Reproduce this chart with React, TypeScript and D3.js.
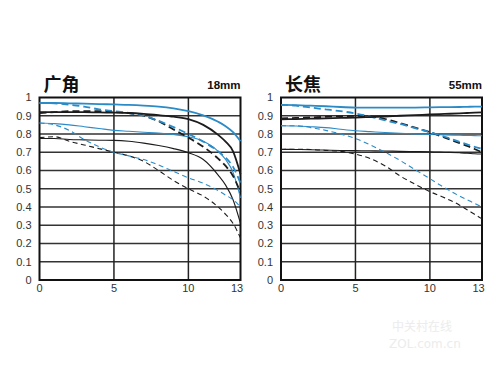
import { useEffect, useRef } from "react";
import * as d3 from "d3";

// image height positions (mm) shared by every curve
const positions = [0, 1, 2, 3, 4, 5, 6, 7, 8, 9, 10, 11, 12, 12.5, 13, 13.5];

const yTicks = [0, 0.1, 0.2, 0.3, 0.4, 0.5, 0.6, 0.7, 0.8, 0.9, 1];
const yTickLabels = ["0", "0.1", "0.2", "0.3", "0.4", "0.5", "0.6", "0.7", "0.8", "0.9", "1"];
const xTicks = [0, 5, 10, 13];
const xTickLabels = ["0", "5", "10", "13"];

// 18mm (广角)
const wideBlueThickS = [0.97, 0.97, 0.968, 0.966, 0.964, 0.962, 0.96, 0.956, 0.95, 0.94, 0.925, 0.902, 0.867, 0.843, 0.81, 0.76];
const wideBlueThickD = [0.97, 0.968, 0.96, 0.95, 0.935, 0.925, 0.915, 0.9, 0.872, 0.838, 0.8, 0.758, 0.705, 0.67, 0.62, 0.53];
const wideBlackThickS = [0.92, 0.92, 0.92, 0.92, 0.918, 0.917, 0.915, 0.91, 0.903, 0.895, 0.882, 0.85, 0.795, 0.758, 0.705, 0.58];
const wideBlackThickD = [0.915, 0.92, 0.925, 0.925, 0.925, 0.92, 0.915, 0.9, 0.87, 0.825, 0.78, 0.73, 0.665, 0.625, 0.57, 0.48];
const wideBlueThinS = [0.86, 0.857, 0.85, 0.84, 0.83, 0.82, 0.815, 0.81, 0.805, 0.797, 0.785, 0.76, 0.705, 0.66, 0.59, 0.45];
const wideBlueThinD = [0.86, 0.85, 0.82, 0.77, 0.73, 0.7, 0.68, 0.66, 0.63, 0.595, 0.56, 0.53, 0.49, 0.465, 0.44, 0.4];
const wideBlackThinS = [0.775, 0.775, 0.77, 0.768, 0.766, 0.765, 0.76, 0.75, 0.737, 0.72, 0.697, 0.66, 0.575, 0.52, 0.44, 0.31];
const wideBlackThinD = [0.78, 0.785, 0.76, 0.74, 0.72, 0.7, 0.68, 0.65, 0.6, 0.545, 0.5, 0.46, 0.4, 0.36, 0.31, 0.23];

// 55mm (长焦)
const teleBlueThickS = [0.96, 0.958, 0.955, 0.952, 0.948, 0.945, 0.944, 0.944, 0.945, 0.945, 0.946, 0.947, 0.948, 0.949, 0.95, 0.95];
const teleBlueThickD = [0.96, 0.955, 0.945, 0.935, 0.925, 0.913, 0.895, 0.875, 0.855, 0.832, 0.81, 0.785, 0.757, 0.743, 0.73, 0.72];
const teleBlackThickS = [0.88, 0.882, 0.884, 0.886, 0.888, 0.89, 0.893, 0.896, 0.9, 0.903, 0.907, 0.91, 0.913, 0.915, 0.917, 0.918];
const teleBlackThickD = [0.885, 0.888, 0.891, 0.894, 0.897, 0.899, 0.895, 0.882, 0.86, 0.835, 0.81, 0.78, 0.75, 0.735, 0.718, 0.7];
const teleBlueThinS = [0.845, 0.844, 0.84, 0.835, 0.826, 0.818, 0.813, 0.808, 0.804, 0.8, 0.797, 0.795, 0.793, 0.792, 0.791, 0.79];
const teleBlueThinD = [0.845, 0.845, 0.835, 0.82, 0.8, 0.775, 0.74, 0.7, 0.655, 0.605, 0.555, 0.505, 0.46, 0.44, 0.42, 0.4];
const teleBlackThinS = [0.716, 0.715, 0.714, 0.712, 0.71, 0.709, 0.708, 0.707, 0.705, 0.704, 0.703, 0.7, 0.697, 0.695, 0.692, 0.69];
const teleBlackThinD = [0.715, 0.716, 0.715, 0.71, 0.705, 0.69, 0.665, 0.625, 0.57, 0.525, 0.484, 0.45, 0.41, 0.385, 0.36, 0.335];

const BLUE = "#2b8bc7";
const BLACK = "#1c1c1c";

const styles = {
    thickS: { width: 1.8, dash: null },
    thickD: { width: 1.8, dash: "7,4" },
    thinS: { width: 1.1, dash: null },
    thinD: { width: 1.1, dash: "5,3.5" },
};

const wideSeries = [
    { values: wideBlackThinD, color: BLACK, style: styles.thinD },
    { values: wideBlackThinS, color: BLACK, style: styles.thinS },
    { values: wideBlueThinD, color: BLUE, style: styles.thinD },
    { values: wideBlueThinS, color: BLUE, style: styles.thinS },
    { values: wideBlackThickD, color: BLACK, style: styles.thickD },
    { values: wideBlueThickD, color: BLUE, style: styles.thickD },
    { values: wideBlackThickS, color: BLACK, style: styles.thickS },
    { values: wideBlueThickS, color: BLUE, style: styles.thickS },
];

const teleSeries = [
    { values: teleBlackThinD, color: BLACK, style: styles.thinD },
    { values: teleBlackThinS, color: BLACK, style: styles.thinS },
    { values: teleBlueThinD, color: BLUE, style: styles.thinD },
    { values: teleBlueThinS, color: BLUE, style: styles.thinS },
    { values: teleBlackThickD, color: BLACK, style: styles.thickD },
    { values: teleBlueThickD, color: BLUE, style: styles.thickD },
    { values: teleBlackThickS, color: BLACK, style: styles.thickS },
    { values: teleBlueThickS, color: BLUE, style: styles.thickS },
];

function MtfPanel({ title, focal, series, left }) {
    const gRef = useRef(null);

    useEffect(() => {
        const g = d3.select(gRef.current);
        g.selectAll("*").remove();

        const plotW = 201;
        const x = d3.scaleLinear().domain([0, 13.5]).range([left, left + plotW]);
        const y = d3.scaleLinear().domain([0, 1]).range([280, 97.5]);

        // horizontal grid
        g.selectAll(".hgrid")
            .data(yTicks.slice(1, -1))
            .join("line")
            .attr("x1", left)
            .attr("x2", left + plotW)
            .attr("y1", d => y(d))
            .attr("y2", d => y(d))
            .attr("stroke", "#333")
            .attr("stroke-width", 1.5);

        // vertical grid
        g.selectAll(".vgrid")
            .data([5, 10])
            .join("line")
            .attr("x1", d => x(d))
            .attr("x2", d => x(d))
            .attr("y1", y(1))
            .attr("y2", y(0))
            .attr("stroke", "#222")
            .attr("stroke-width", 1.5);

        // frame
        g.append("rect")
            .attr("x", left)
            .attr("y", y(1))
            .attr("width", plotW)
            .attr("height", y(0) - y(1))
            .attr("fill", "none")
            .attr("stroke", "#111")
            .attr("stroke-width", 2);

        const line = d3.line()
            .x((d, i) => x(positions[i]))
            .y(d => y(d))
            .curve(d3.curveMonotoneX);

        series.forEach(s => {
            g.append("path")
                .attr("d", line(s.values))
                .attr("fill", "none")
                .attr("stroke", s.color)
                .attr("stroke-width", s.style.width)
                .attr("stroke-dasharray", s.style.dash);
        });

        // y tick labels
        g.selectAll(".ylab")
            .data(yTicks)
            .join("text")
            .attr("x", left - 8)
            .attr("y", d => y(d))
            .attr("dy", "0.35em")
            .attr("text-anchor", "end")
            .attr("font-family", "Liberation Sans, Arial, sans-serif")
            .attr("font-size", 11)
            .attr("fill", "#333")
            .text((d, i) => yTickLabels[i]);

        // x tick labels (13 sits a little right of its value, as in the original)
        g.selectAll(".xlab")
            .data(xTicks)
            .join("text")
            .attr("x", d => x(d) + (d === 13 ? 4 : 0))
            .attr("y", 292)
            .attr("text-anchor", "middle")
            .attr("font-family", "Liberation Sans, Arial, sans-serif")
            .attr("font-size", 11)
            .attr("fill", "#333")
            .text((d, i) => xTickLabels[i]);

        g.append("text")
            .attr("x", left + 4)
            .attr("y", 91)
            .attr("font-family", "Noto Sans CJK SC, sans-serif")
            .attr("font-weight", "bold")
            .attr("font-size", 18)
            .attr("fill", "#111")
            .text(title);

        g.append("text")
            .attr("x", left + plotW)
            .attr("y", 89)
            .attr("text-anchor", "end")
            .attr("font-family", "Liberation Sans, Arial, sans-serif")
            .attr("font-weight", "bold")
            .attr("font-size", 11.5)
            .attr("fill", "#111")
            .text(focal);
    }, [title, focal, series, left]);

    return <g ref={gRef} />;
}

export default function App() {
    return (
        <div style={{ position: "absolute", left: 0, top: 0 }}>
            <svg width={499} height={375} style={{ display: "block", background: "#fff" }}>
                <MtfPanel title="广角" focal="18mm" series={wideSeries} left={39.5} />
                <MtfPanel title="长焦" focal="55mm" series={teleSeries} left={281} />
                <text x={392} y={331} fontFamily="Noto Sans CJK SC, sans-serif" fontSize={12} fill="#ececec">中关村在线</text>
                <text x={389} y={348} fontFamily="DejaVu Sans, sans-serif" fontSize={12} fill="#ececec">ZOL.com.cn</text>
            </svg>
        </div>
    );
}
